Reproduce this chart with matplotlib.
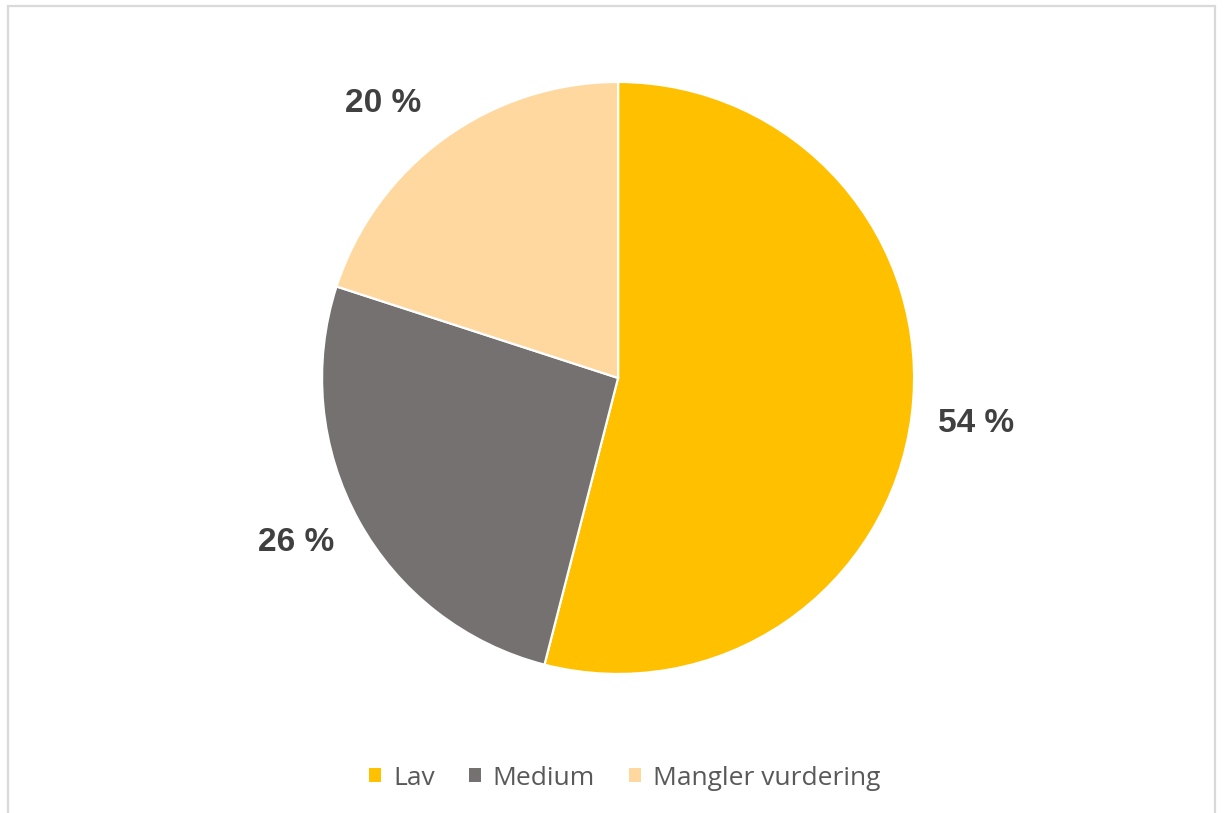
import numpy as np
import matplotlib.pyplot as plt
from matplotlib.patches import Rectangle, Patch

categories = ["Lav", "Medium", "Mangler vurdering"]
shares = [54, 26, 20]
colors = ["#FFC000", "#767171", "#FFD8A0"]

fig = plt.figure(figsize=(12.25, 8.13), dpi=100)

# light grey chart border (bottom runs off the image)
fig.patches.append(Rectangle((7.5 / 1225, -0.05), (1214.5 - 7.5) / 1225, 1.05 - 6 / 813,
                             transform=fig.transFigure, fill=False,
                             edgecolor="#d9d9d9", linewidth=1.6))

ax = fig.add_axes([0.2629, 0.171, 0.4833, 0.7282])
wedges, texts, autotexts = ax.pie(
    shares, colors=colors, startangle=90, counterclock=False, radius=1,
    autopct=lambda p: f"{p:.0f} %", pctdistance=1.22,
    wedgeprops=dict(edgecolor="white", linewidth=1.6),
)
# best-fit style label placement: small nudge around the slice middle
nudge = [0, -1.7, 4.5]
for w, t, d in zip(wedges, autotexts, nudge):
    ang = np.deg2rad((w.theta1 + w.theta2) / 2 + d)
    t.set_position((1.22 * np.cos(ang), 1.22 * np.sin(ang)))
    t.set_fontsize(24)
    t.set_fontweight("bold")
    t.set_color("#404040")
    t.set_family("Liberation Sans")
ax.set_xlim(-1, 1)
ax.set_ylim(-1, 1)
ax.set_aspect("equal")
ax.axis("off")

handles = [Patch(facecolor=c, edgecolor="none") for c in colors]
leg = fig.legend(handles, categories, loc="center", bbox_to_anchor=(0.510, 0.043),
                 ncol=3, frameon=False, prop={"family": "Open Sans", "size": 19},
                 handlelength=0.45, handleheight=0.45, handletextpad=0.45,
                 columnspacing=1.3)
for t in leg.get_texts():
    t.set_color("#595959")

fig.savefig("out.png", dpi=100)
